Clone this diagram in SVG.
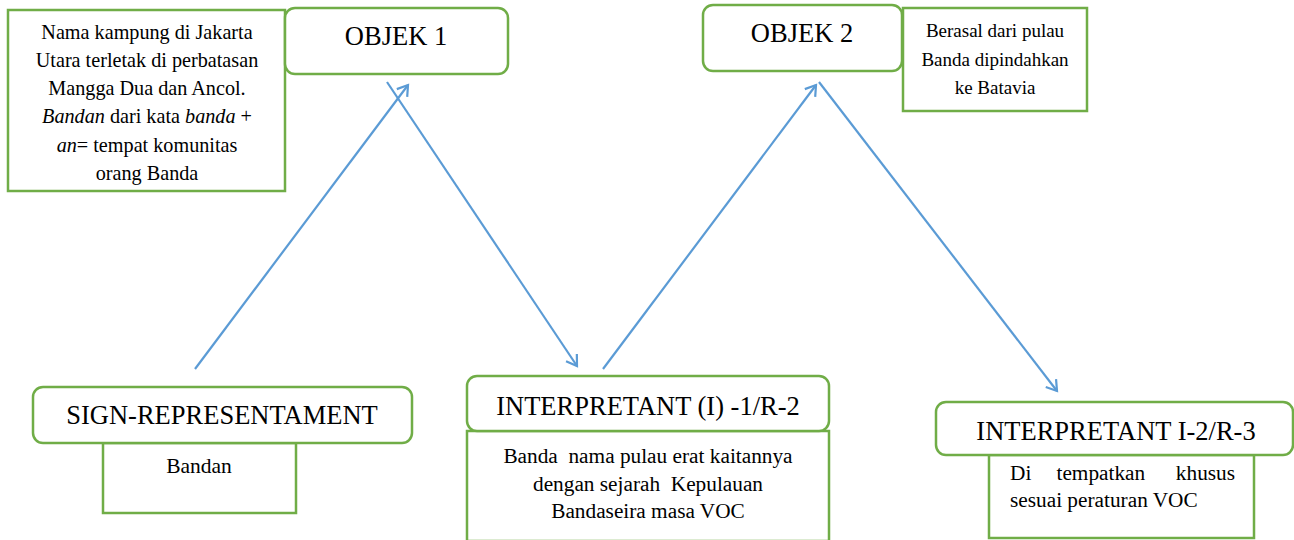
<svg xmlns="http://www.w3.org/2000/svg" width="1294" height="540" viewBox="0 0 1294 540">
<style>
.box{fill:#fff;stroke:#70AD47;stroke-width:2.5}
.hd{font-family:"Liberation Serif","Times New Roman",serif;font-size:26.5px;fill:#000;text-anchor:middle}
.tx{font-family:"Liberation Serif","Times New Roman",serif;fill:#000;text-anchor:middle}
.tl{font-family:"Liberation Serif","Times New Roman",serif;font-size:21.3px;fill:#000}
.cn{fill:none;stroke:#5B9BD5;stroke-width:2.2;marker-end:url(#ah)}
</style>
<defs>
<marker id="ah" markerUnits="userSpaceOnUse" markerWidth="20" markerHeight="20" refX="13" refY="8" orient="auto" viewBox="0 0 20 16">
<path d="M3,1.5 L13,8 L3,14.5" fill="none" stroke="#5B9BD5" stroke-width="2.2"/>
</marker>
</defs>
<rect width="1294" height="540" fill="#fff"/>
<g id="connectors">
<line class="cn" x1="195" y1="369" x2="408" y2="85"/>
<line class="cn" x1="387" y1="82" x2="577" y2="366"/>
<line class="cn" x1="603" y1="369" x2="816" y2="85"/>
<line class="cn" x1="819" y1="82" x2="1057" y2="391"/>
</g>
<g id="note1">
<rect class="box" x="8" y="10" width="277" height="181"/>
<g class="tx" font-size="20.2">
<text x="147" y="39">Nama kampung di Jakarta</text>
<text x="147" y="67">Utara terletak di perbatasan</text>
<text x="147" y="95">Mangga Dua dan Ancol.</text>
<text x="147" y="123"><tspan font-style="italic">Bandan</tspan> dari kata <tspan font-style="italic">banda</tspan> +</text>
<text x="147" y="152"><tspan font-style="italic">an</tspan>= tempat komunitas</text>
<text x="147" y="180">orang Banda</text>
</g>
</g>
<g id="objek1">
<rect class="box" x="285" y="8" width="223" height="66" rx="10"/>
<text class="hd" x="396" y="45">OBJEK 1</text>
</g>
<g id="objek2">
<rect class="box" x="703" y="5" width="199" height="66" rx="10"/>
<text class="hd" x="802" y="42">OBJEK 2</text>
</g>
<g id="note2">
<rect class="box" x="903" y="8" width="184" height="103"/>
<g class="tx" font-size="19">
<text x="995" y="37">Berasal dari pulau</text>
<text x="995" y="66">Banda dipindahkan</text>
<text x="995" y="94">ke Batavia</text>
</g>
</g>
<g id="sign">
<rect class="box" x="103" y="443" width="193" height="70"/>
<text class="tx" font-size="21.5" x="199" y="473">Bandan</text>
<rect class="box" x="33" y="387" width="379" height="56" rx="10"/>
<text class="hd" x="222" y="424">SIGN-REPRESENTAMENT</text>
</g>
<g id="interpretant1">
<rect class="box" x="467" y="431" width="362" height="110"/>
<g class="tx" font-size="21.3">
<text x="648" y="463" xml:space="preserve">Banda  nama pulau erat kaitannya</text>
<text x="648" y="491" xml:space="preserve">dengan sejarah  Kepulauan</text>
<text x="648" y="518">Bandaseira masa VOC</text>
</g>
<rect class="box" x="467" y="376" width="362" height="55" rx="10"/>
<text class="hd" x="648" y="415">INTERPRETANT (I) -1/R-2</text>
</g>
<g id="interpretant2">
<rect class="box" x="989" y="455" width="265" height="83"/>
<text class="tl" y="480"><tspan x="1010">Di</tspan> <tspan x="1103.5" text-anchor="middle">tempatkan</tspan> <tspan x="1235" text-anchor="end">khusus</tspan></text>
<text class="tl" x="1010" y="507">sesuai peraturan VOC</text>
<rect class="box" x="936" y="402" width="357" height="53" rx="10"/>
<text class="hd" x="1116" y="440">INTERPRETANT I-2/R-3</text>
</g>
</svg>
